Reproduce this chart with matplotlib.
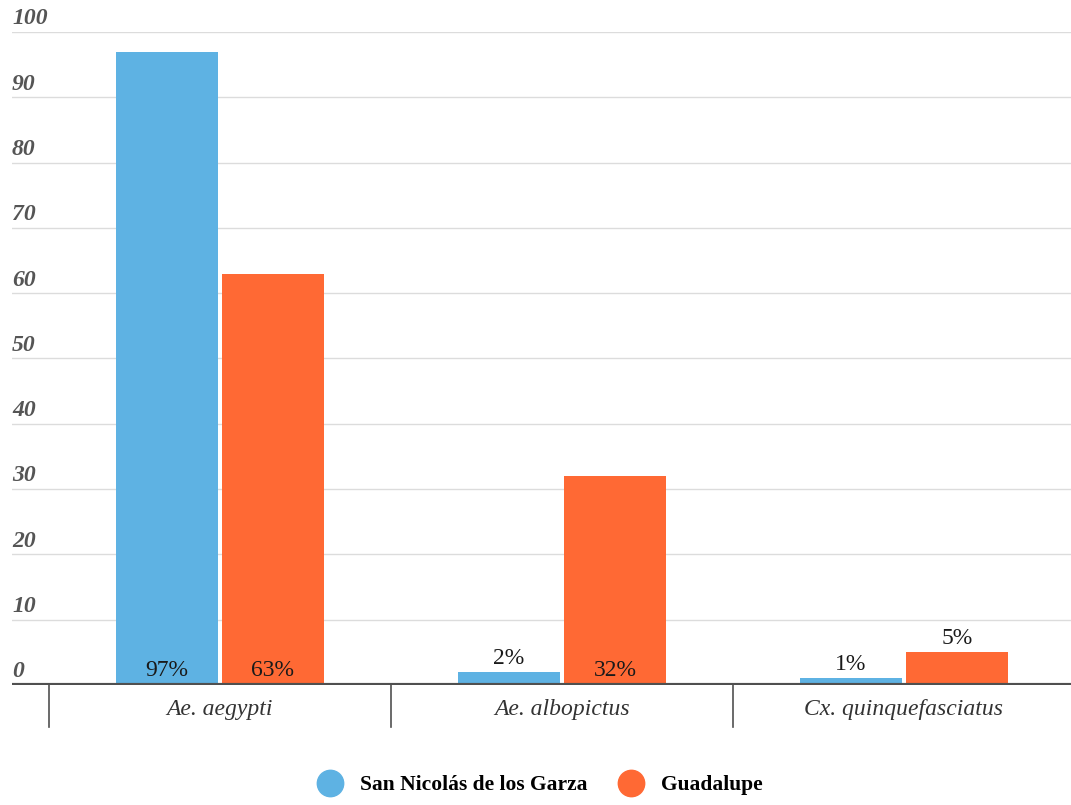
import matplotlib.pyplot as plt
from matplotlib.lines import Line2D
from matplotlib.transforms import blended_transform_factory

# data
species = ['Ae. aegypti', 'Ae. albopictus', 'Cx. quinquefasciatus']
san_nicolas = [97, 2, 1]
guadalupe = [63, 32, 5]
series_names = ['San Nicolás de los Garza', 'Guadalupe']
yticks = [0, 10, 20, 30, 40, 50, 60, 70, 80, 90, 100]

blue = '#5EB2E3'
orange = '#FF6934'
serif = ['Liberation Serif', 'DejaVu Serif']

fig = plt.figure(figsize=(10.71, 8.05), dpi=100)
ax = fig.add_axes([12 / 1071, 120 / 805, 1 - 12 / 1071, 653 / 805])

x = list(range(len(species)))
w = 102 / 342
off = 53 / 342
bars1 = ax.bar([i - off for i in x], san_nicolas, w, color=blue, zorder=3)
bars2 = ax.bar([i + off for i in x], guadalupe, w, color=orange, zorder=3)

ax.set_xlim((12 - 220) / 342, (1071 - 220) / 342)
ax.set_ylim(0, 100)
for s in ax.spines.values():
    s.set_visible(False)
ax.set_xticks([])
ax.set_yticks([])

# gridlines and y labels
trans = blended_transform_factory(ax.transAxes, ax.transData)
for v in yticks:
    if v > 0:
        ax.axhline(v, color='#dcdcdc', lw=1, zorder=1)
    ax.text(0.0, v + 0.4, str(v), transform=trans, ha='left', va='bottom',
            fontsize=17, fontstyle='italic', fontweight='bold',
            color='#555555', family=serif)
ax.axhline(0, color='#505050', lw=3, zorder=4)

# category separators and labels
for i, name in enumerate(species):
    ax.plot([i - 0.5, i - 0.5], [0, -6.4], color='#505050', lw=1.2,
            clip_on=False, zorder=4)
    ax.text(i, -2.2, name, ha='center', va='top', fontsize=17,
            fontstyle='italic', color='#333333', family=serif)
ax.plot([2.5, 2.5], [0, -6.4], color='#505050', lw=1.2, clip_on=False)

# value labels
for bars in (bars1, bars2):
    for b in bars:
        h = b.get_height()
        cx = b.get_x() + b.get_width() / 2
        if h >= 20:
            ax.text(cx, 0.6, f'{h}%', ha='center', va='bottom', fontsize=17,
                    color='#1a1a1a', family=serif, zorder=5)
        else:
            ax.text(cx, h + 0.5, f'{h}%', ha='center', va='bottom',
                    fontsize=17, color='#1a1a1a', family=serif, zorder=5)

handles = [Line2D([], [], marker='o', ls='', markersize=19, color=c)
           for c in (blue, orange)]
fig.legend(handles, series_names, loc='center', bbox_to_anchor=(0.5, 20 / 805),
           ncol=2, frameon=False, handletextpad=0.4, columnspacing=1.0,
           prop={'family': serif, 'weight': 'bold', 'size': 15.5})

fig.savefig('out.png', dpi=100)
